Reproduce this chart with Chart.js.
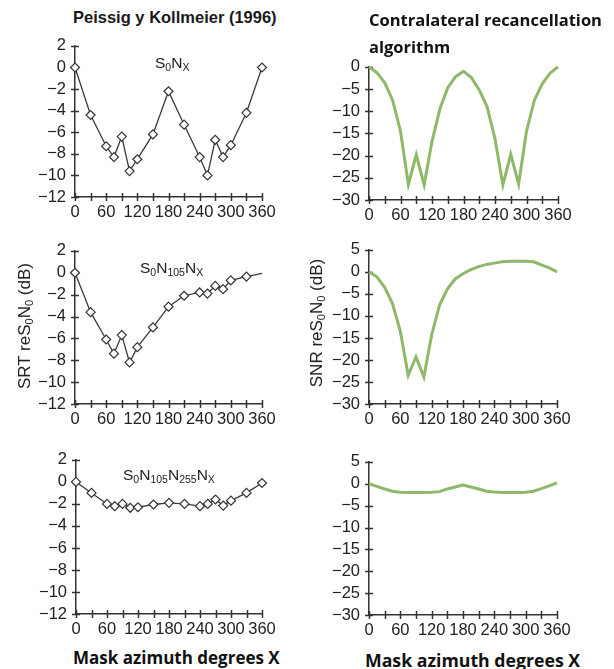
<!DOCTYPE html>
<html><head><meta charset="utf-8">
<script src="https://cdn.jsdelivr.net/npm/chart.js@4/dist/chart.umd.min.js"></script>
<style>
html,body{margin:0;padding:0;background:#fff;}
#wrap{position:relative;width:614px;height:669px;overflow:hidden;background:#fff;}
canvas{position:absolute;}
.t{position:absolute;white-space:nowrap;color:#1a1a1a;}
.arial{font-family:"Liberation Sans",Arial,sans-serif;}
.open{font-family:"Open Sans","DejaVu Sans",sans-serif;font-weight:700;color:#111;}
.lab{font-family:"Liberation Sans",Arial,sans-serif;font-size:15.5px;color:#222;line-height:18px;}
.lab sub{font-size:10.5px;vertical-align:-3px;line-height:0;}
.ytitle{font-family:"Liberation Sans",Arial,sans-serif;font-size:17px;color:#222;width:200px;text-align:center;line-height:20px;transform:rotate(-90deg);}
.ytitle sub{font-size:11px;vertical-align:-3px;line-height:0;}
</style></head><body>
<div id="wrap">
  <div class="t arial" style="left:73px;top:7px;font-size:16.5px;font-weight:700;line-height:20px;">Peissig y Kollmeier (1996)</div>
  <div class="t open" style="left:369px;top:8px;font-size:16.5px;line-height:24px;">Contralateral recancellation</div>
  <div class="t open" style="left:369px;top:35px;font-size:16.5px;line-height:24px;">algorithm</div>
  <div class="t open" style="left:73px;top:646px;font-size:17px;line-height:24px;">Mask azimuth degrees X</div>
  <div class="t open" style="left:365px;top:648px;font-size:17.7px;line-height:24px;">Mask azimuth degrees X</div>
  <div class="t lab" style="left:155px;top:54px;">S<sub>0</sub>N<sub>X</sub></div>
  <div class="t lab" style="left:140px;top:259px;">S<sub>0</sub>N<sub>105</sub>N<sub>X</sub></div>
  <div class="t lab" style="left:123px;top:466px;">S<sub>0</sub>N<sub>105</sub>N<sub>255</sub>N<sub>X</sub></div>
  <div class="t ytitle" style="left:-75px;top:316px;">SRT reS<sub>0</sub>N<sub>0</sub> (dB)</div>
  <div class="t ytitle" style="left:217px;top:313px;">SNR reS<sub>0</sub>N<sub>0</sub> (dB)</div>
</div>
<script>
// ---- data ----
const markedAngles = [0, 30, 60, 75, 90, 105, 120, 150, 180, 210, 240, 255, 270, 285, 300, 330, 360];
const srtS0Nx = [0, -4.4, -7.3, -8.3, -6.4, -9.6, -8.5, -6.2, -2.2, -5.3, -8.3, -10.0, -6.7, -8.3, -7.2, -4.2, 0];
const srtS0N105Nx = [0, -3.6, -6.1, -7.4, -5.7, -8.2, -6.8, -5.0, -3.1, -2.1, -1.8, -1.9, -1.2, -1.5, -0.7, -0.35, -0.05];
const srtS0N105N255Nx = [0, -1.0, -2.0, -2.2, -2.0, -2.35, -2.3, -2.05, -1.9, -2.0, -2.2, -2.0, -1.6, -2.15, -1.7, -1.0, -0.1];

const modelAngles = [0, 15, 30, 45, 60, 75, 90, 105, 120, 135, 150, 165, 180, 195, 210, 225, 240, 255, 270, 285, 300, 315, 330, 345, 360];
const snrS0Nx = [0, -1.3, -3.6, -7.5, -14.5, -26.5, -19.8, -26.6, -16.8, -9.5, -4.7, -2.2, -1.0, -2.4, -5.2, -9.0, -16.2, -26.6, -19.7, -26.4, -14.5, -7.5, -3.8, -1.4, 0];
const snrS0N105Nx = [0, -1.1, -3.5, -7.2, -13.5, -23.5, -19.3, -23.9, -14.3, -7.6, -3.9, -1.6, -0.4, 0.5, 1.2, 1.7, 2.0, 2.3, 2.4, 2.4, 2.4, 2.3, 1.6, 0.9, 0];
const snrS0N105N255Nx = [0, -0.6, -1.2, -1.7, -1.95, -2.0, -2.0, -2.0, -1.95, -1.8, -1.2, -0.75, -0.3, -0.75, -1.2, -1.7, -1.9, -2.0, -2.0, -2.0, -1.95, -1.7, -1.1, -0.5, 0.2];

const xTickLabels = [0, 60, 120, 180, 240, 300, 360];

// ---- drawing ----
const FONT = '"Liberation Sans", Arial, sans-serif';
const wrap = document.getElementById('wrap');
const minus = v => (v < 0 ? '\u2212' + Math.abs(v) : String(v));

const crossTicks = {
  id: 'crossTicks',
  beforeDatasetsDraw(chart) {
    const ctx = chart.ctx, xs = chart.scales.x, ys = chart.scales.y, L = 4;
    ctx.save();
    ctx.strokeStyle = '#333';
    ctx.lineWidth = 1.5;
    xs.ticks.forEach((t, i) => {
      const px = Math.round(xs.getPixelForTick(i)) + 0.5;
      ctx.beginPath(); ctx.moveTo(px, xs.top - L); ctx.lineTo(px, xs.top + L); ctx.stroke();
    });
    ys.ticks.forEach((t, i) => {
      const py = Math.round(ys.getPixelForTick(i)) + 0.5;
      ctx.beginPath(); ctx.moveTo(ys.right - L, py); ctx.lineTo(ys.right + L, py); ctx.stroke();
    });
    ctx.restore();
  }
};

function pts(xs, ys) { return xs.map((x, i) => ({ x: x, y: ys[i] })); }

function makePanel(box, data, yMin, yMax, yStep, style) {
  const padL = 70, padT = 14, padR = 24, padB = 30;
  const c = document.createElement('canvas');
  c.width = (box.right - box.left) + padL + padR;
  c.height = (box.bottom - box.top) + padT + padB;
  c.style.left = (box.left - padL) + 'px';
  c.style.top = (box.top - padT) + 'px';
  wrap.insertBefore(c, wrap.firstChild);
  const ds = Object.assign({ data: data, clip: false }, style);
  new Chart(c, {
    type: 'line',
    data: { datasets: [ds] },
    options: {
      responsive: false, animation: false, devicePixelRatio: 1,
      layout: { padding: { left: 0, top: padT, right: padR, bottom: 0 } },
      plugins: { legend: { display: false }, tooltip: { enabled: false } },
      scales: {
        x: {
          type: 'linear', min: 0, max: 360,
          ticks: {
            stepSize: 30, autoSkip: false, maxRotation: 0, padding: 6, color: '#222',
            font: { family: FONT, size: 16.5 },
            callback: v => (xTickLabels.includes(v) ? String(v) : '')
          },
          grid: { display: true, drawOnChartArea: false, drawTicks: false, color: 'rgba(0,0,0,0)' },
          border: { display: true, color: '#333', width: 1.5 },
          afterFit(s) { s.height = padB; }
        },
        y: {
          min: yMin, max: yMax,
          ticks: {
            stepSize: yStep, autoSkip: false, padding: 9, color: '#222',
            font: { family: FONT, size: 16.5 },
            callback: v => minus(v)
          },
          grid: { display: true, drawOnChartArea: false, drawTicks: false, color: 'rgba(0,0,0,0)' },
          border: { display: true, color: '#333', width: 1.5 },
          afterFit(s) { s.width = padL; }
        }
      }
    },
    plugins: [crossTicks]
  });
}

const measured = {
  borderColor: '#3a3a3a', borderWidth: 1.3, tension: 0,
  pointStyle: 'rectRot', pointRadius: 4.5, pointBackgroundColor: '#fff',
  pointBorderColor: '#333', pointBorderWidth: 1.2
};
const model = { borderColor: '#8fb86a', borderWidth: 3, tension: 0, pointRadius: 0 };

makePanel({ left: 75, right: 262, top: 41, bottom: 197 }, pts(markedAngles, srtS0Nx), -12, 2, 2, measured);
makePanel({ left: 75, right: 262, top: 246, bottom: 404 }, pts(markedAngles, srtS0N105Nx), -12, 2, 2,
  Object.assign({}, measured, { pointRadius: ctx => (ctx.dataIndex === markedAngles.length - 1 ? 0 : 4.5) }));
makePanel({ left: 76, right: 262, top: 455, bottom: 614 }, pts(markedAngles, srtS0N105N255Nx), -12, 2, 2, measured);

makePanel({ left: 369, right: 558, top: 62, bottom: 200 }, pts(modelAngles, snrS0Nx), -30, 0, 5, model);
makePanel({ left: 369, right: 557, top: 245, bottom: 404 }, pts(modelAngles, snrS0N105Nx), -30, 5, 5, model);
makePanel({ left: 369, right: 557, top: 457, bottom: 615 }, pts(modelAngles, snrS0N105N255Nx), -30, 5, 5, model);
</script>
</body></html>
